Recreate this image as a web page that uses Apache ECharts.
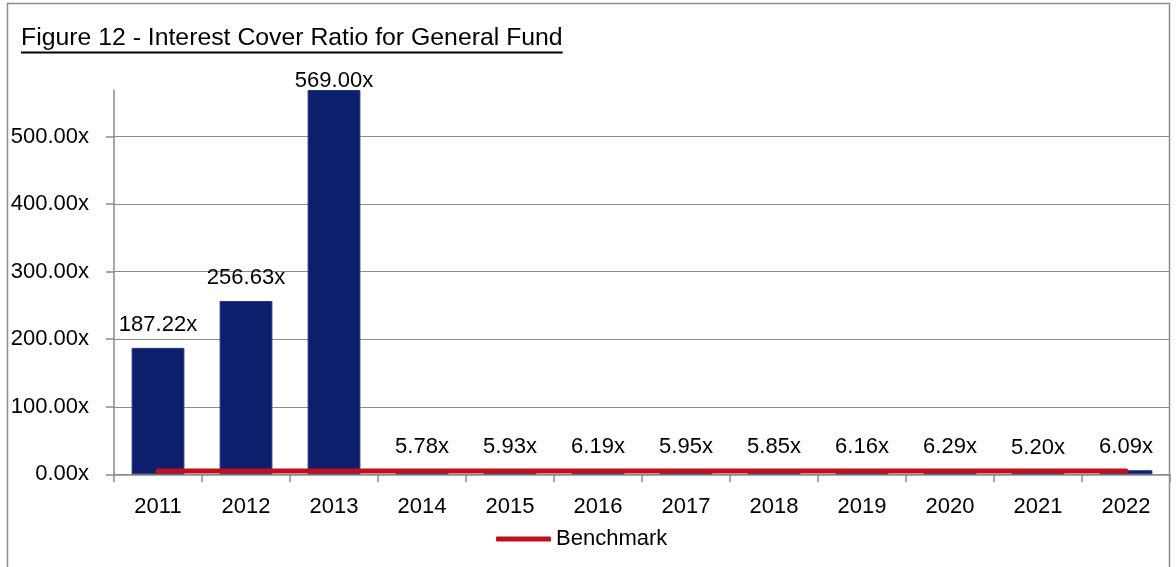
<!DOCTYPE html>
<html>
<head>
<meta charset="utf-8">
<script src="https://cdn.jsdelivr.net/npm/echarts@6/dist/echarts.min.js"></script>
<style>
  html, body { margin: 0; padding: 0; background: #ffffff; }
  #chart { width: 1176px; height: 567px; }
</style>
</head>
<body>
<div id="chart"></div>
<script>
// Interest cover ratio for the General Fund, by financial year
const years = ['2011', '2012', '2013', '2014', '2015', '2016', '2017', '2018', '2019', '2020', '2021', '2022'];
const coverRatio = [187.22, 256.63, 569.00, 5.78, 5.93, 6.19, 5.95, 5.85, 6.16, 6.29, 5.20, 6.09];
const benchmark = [5, 5, 5, 5, 5, 5, 5, 5, 5, 5, 5, 5];
const yTickValues = [0, 100, 200, 300, 400, 500];
const yMax = 569;

const titleText = 'Figure 12 - Interest Cover Ratio for General Fund';
const FONT = '"Liberation Sans", Arial, Helvetica, sans-serif';

function textWidth(str, size) {
  const ctx = document.createElement('canvas').getContext('2d');
  ctx.font = size + 'px ' + FONT;
  return ctx.measureText(str).width;
}

const fmt = v => v.toFixed(2) + 'x';
// the tallest bar reaches the top of the plot, so its label sits tight on the bar
const peak = Math.max(...coverRatio);
const barData = coverRatio.map(v => v === peak ? { value: v, label: { distance: 2, offset: [0, 4] } } : v);

const chart = echarts.init(document.getElementById('chart'), null, { renderer: 'canvas' });
const titleSize = 24.8;
const titleW = textWidth(titleText, titleSize);

chart.setOption({
  animation: false,
  backgroundColor: '#ffffff',
  textStyle: { fontFamily: FONT },
  grid: { left: 114, right: 6, top: 90, bottom: 92.7, containLabel: false },
  legend: {
    data: ['Benchmark'],
    left: 491,
    top: 523,
    icon: 'roundRect',
    itemWidth: 55,
    itemHeight: 5,
    textStyle: { fontSize: 22, color: '#000', fontFamily: FONT }
  },
  xAxis: {
    type: 'category',
    data: years,
    boundaryGap: true,
    axisLine: { lineStyle: { color: '#8a8a8a', width: 1.5 } },
    axisTick: { show: true, length: 8, lineStyle: { color: '#8a8a8a', width: 1.5 } },
    axisLabel: { color: '#000', fontSize: 22, fontFamily: FONT, margin: 22 },
    splitLine: { show: false }
  },
  yAxis: {
    type: 'value',
    min: 0,
    max: yMax,
    interval: 100,
    axisLine: { show: true, lineStyle: { color: '#8a8a8a', width: 1.5 } },
    axisTick: { show: true, length: 8, customValues: yTickValues, lineStyle: { color: '#8a8a8a', width: 1.5 } },
    axisLabel: {
      customValues: yTickValues,
      color: '#000', fontSize: 22, fontFamily: FONT, margin: 25,
      formatter: v => fmt(v)
    },
    splitLine: {
      show: true,
      lineStyle: { color: ['#8c8c8c', '#8c8c8c', '#8c8c8c', '#8c8c8c', '#8c8c8c', '#8c8c8c', 'rgba(0,0,0,0)'], width: 1.2 }
    }
  },
  graphic: [
    {
      type: 'rect',
      silent: true,
      shape: { x: 7.5, y: 3.5, width: 1162, height: 600 },
      style: { fill: 'none', stroke: '#8c8c8c', lineWidth: 1.5 },
      z: -1
    },
    {
      type: 'text',
      left: 21,
      top: 26,
      style: { text: titleText, font: titleSize + 'px ' + FONT, fill: '#000' }
    },
    {
      type: 'line',
      silent: true,
      shape: { x1: 21, y1: 52.5, x2: 21 + titleW, y2: 52.5 },
      style: { stroke: '#000', lineWidth: 2 }
    }
  ],
  series: [
    {
      name: 'Interest Cover',
      type: 'bar',
      data: barData,
      barWidth: '60%',
      itemStyle: { color: '#0d1f6c', borderColor: '#2a3b80', borderWidth: 1 },
      label: {
        show: true,
        position: 'top',
        distance: 12,
        color: '#000',
        fontSize: 22,
        fontFamily: FONT,
        formatter: p => fmt(p.value)
      }
    },
    {
      name: 'Benchmark',
      type: 'line',
      data: benchmark,
      symbol: 'none',
      lineStyle: { color: '#c0101e', width: 5, cap: 'round' },
      itemStyle: { color: '#c0101e' },
      z: 3
    }
  ]
});
</script>
</body>
</html>
